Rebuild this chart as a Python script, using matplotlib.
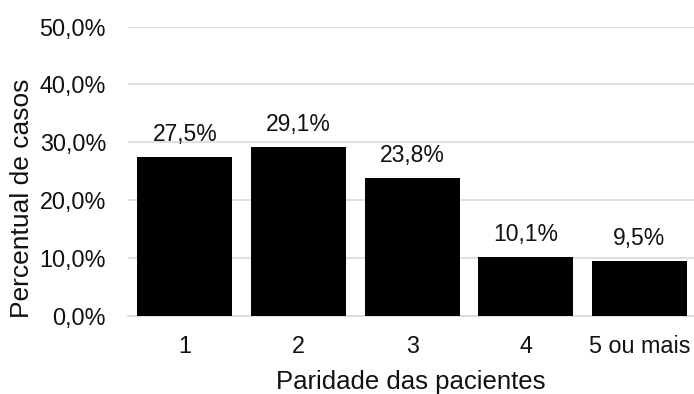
import matplotlib
matplotlib.use("Agg")
import matplotlib.pyplot as plt
from matplotlib.ticker import FuncFormatter

categories = ["1", "2", "3", "4", "5 ou mais"]
percent = [27.5, 29.1, 23.8, 10.1, 9.5]
yticks = [0, 10, 20, 30, 40, 50]

plt.rcParams["font.family"] = ["Liberation Sans", "DejaVu Sans"]

fig = plt.figure(figsize=(6.94, 3.94), dpi=100)
ax = fig.add_axes([128 / 694, 78.5 / 394, 566 / 694, 288.8 / 394])

x = list(range(len(categories)))
bars = ax.bar(x, percent, width=0.835, color="black", zorder=3)

def fmt(v):
    return f"{v:.1f}%".replace(".", ",")

for xi, v in zip(x, percent):
    ax.text(xi, v + 1.9, fmt(v), ha="center", va="bottom", fontsize=16.5, color="#111111")

ax.set_ylim(0, 50)
ax.set_xlim(-0.5, 4.48)
ax.set_yticks(yticks)
ax.yaxis.set_major_formatter(FuncFormatter(lambda v, p: fmt(v)))
ax.set_xticks(x)
ax.set_xticklabels(categories)
ax.tick_params(axis="both", length=0, labelsize=16.8, colors="#111111")
ax.tick_params(axis="x", pad=14)
ax.tick_params(axis="y", pad=15.8)
ax.grid(axis="y", color="#d9d9d9", linewidth=1.2, zorder=0)
for s in ["top", "right", "left"]:
    ax.spines[s].set_visible(False)
ax.spines["bottom"].set_color("#d9d9d9")
ax.spines["bottom"].set_linewidth(1.2)

ax.set_xlabel("Paridade das pacientes", fontsize=18.5, color="#111111", labelpad=9)
ax.set_ylabel("Percentual de casos", fontsize=19, color="#111111")
ax.yaxis.set_label_coords(-0.166, 0.407)

fig.savefig("out.png", dpi=100)
